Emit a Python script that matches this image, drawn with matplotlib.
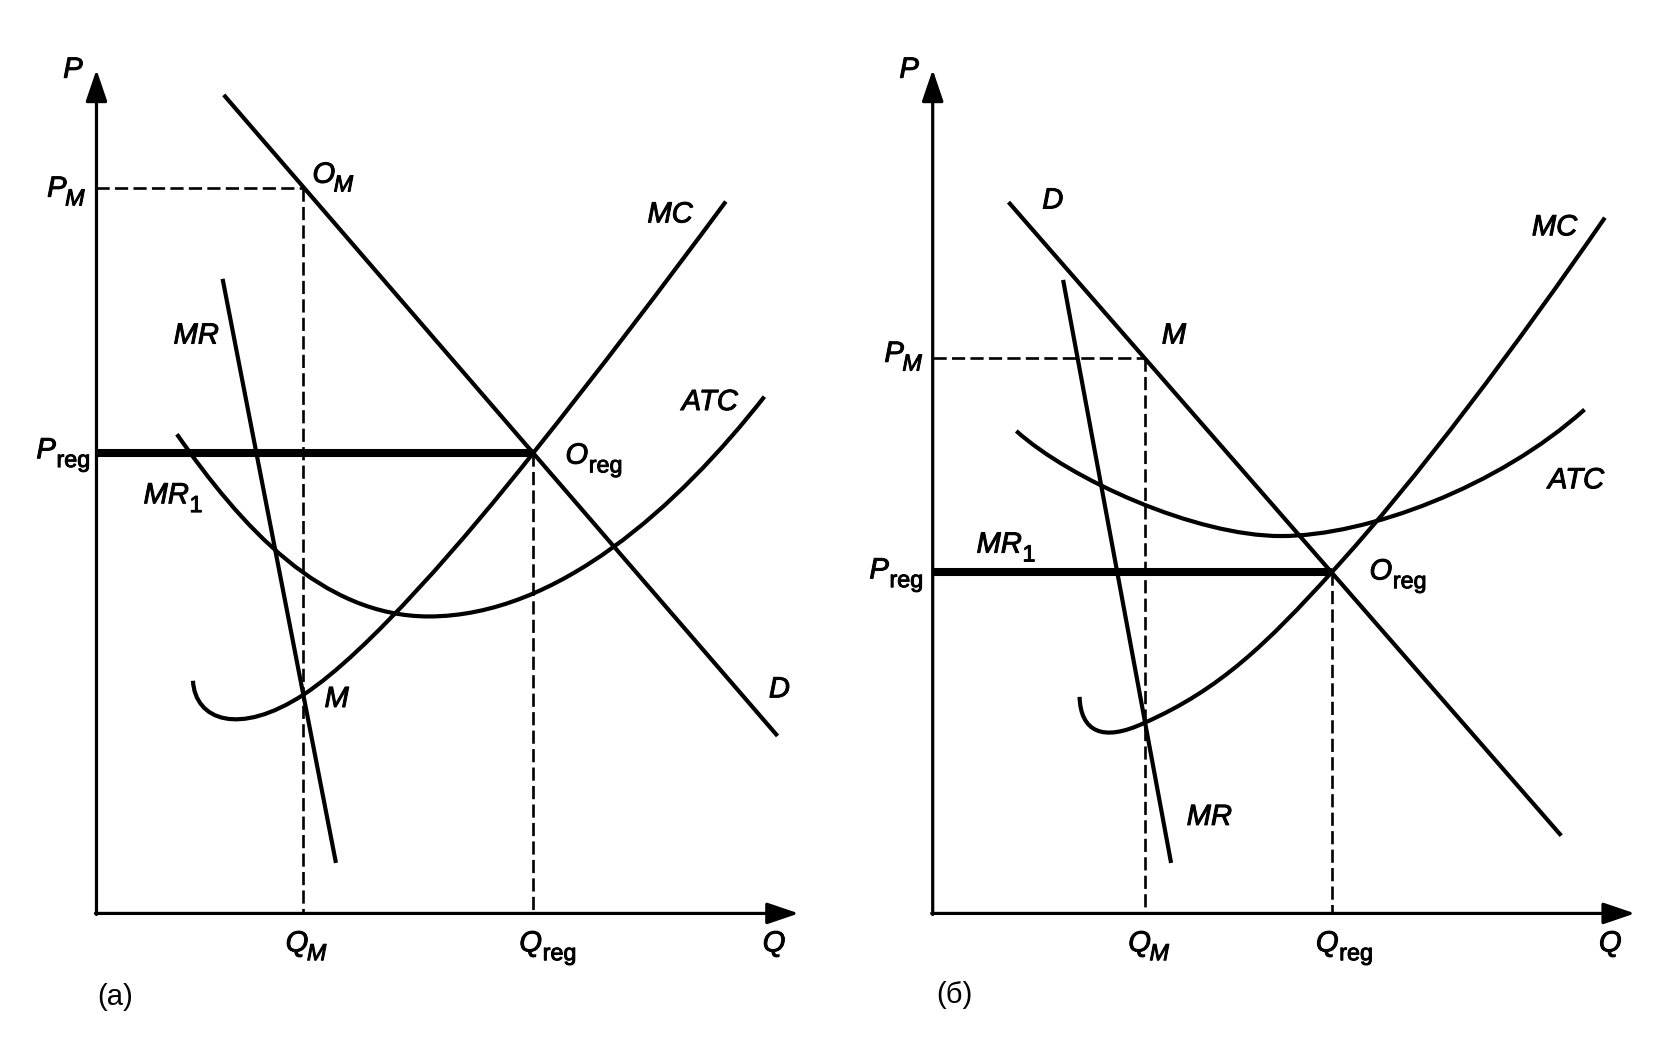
import matplotlib
matplotlib.use('Agg')
import matplotlib.pyplot as plt
import matplotlib.patheffects as pe
from matplotlib.path import Path
from matplotlib.patches import PathPatch

plt.rcParams['font.family'] = ['Liberation Sans', 'DejaVu Sans']

## Chart values (Q to the right, P upwards, same units on both panels)

q_max = 655
p_max = 787

# panel (a)
d_a_q = [120, 634]
d_a_p = [762, 167]
mr_a_q = [118, 223]
mr_a_p = [590, 49]
# MC / ATC given as cubic bezier points: start, ctrl, ctrl, end, ctrl, ctrl, end ...
mc_a_q = [90, 92, 133, 193, 253, 347, 407, 467, 527, 587]
mc_a_p = [217, 180, 165, 204, 243, 353, 429, 504, 583, 664]
atc_a_q = [75, 135, 210, 310, 430, 543, 623]
atc_a_p = [447, 361, 277, 277, 277, 380, 482]
qm_a, pm_a = 193, 677
qreg_a, preg_a = 407, 429

# panel (б)
d_b_q = [72, 585]
d_b_p = [662, 74]
mr_b_q = [122, 222]
mr_b_p = [589, 49]
mc_b_q = [137, 138, 158, 198, 268, 312, 372, 452, 547, 627]
mc_b_p = [202, 170, 159, 178, 209, 252, 318, 405, 533, 649]
atc_b_q = [78, 128, 245, 325, 405, 528, 608]
atc_b_p = [450, 405, 352, 352, 352, 398, 470]
qm_b, pm_b = 198, 518
qreg_b, preg_b = 372, 318

##

FS = 21
LW = 3.0
fx = [pe.withStroke(linewidth=0.7, foreground='k')]


def bezier(ax, qs, ps):
    verts = list(zip(qs, ps))
    codes = [Path.MOVETO] + [Path.CURVE4] * (len(verts) - 1)
    ax.add_patch(PathPatch(Path(verts, codes), fill=False, lw=LW, color='k',
                           capstyle='butt'))


def lab(ax, q, p, s, sub=None, sub_it=False, ha='center', it=True):
    t = ax.text(q, p, s, fontsize=FS, ha=ha, va='center', color='k',
                style='italic' if it else 'normal',
                path_effects=fx if it else None)
    if sub:
        ax.annotate(sub, xy=(1, 0), xycoords=t, xytext=(-1 if sub_it else 0.5, -2),
                    textcoords='offset points', fontsize=FS * 0.8, va='baseline',
                    ha='left', style='italic' if sub_it else 'normal',
                    color='k', path_effects=fx)
    return t


def axes_frame(ax):
    kw = dict(arrowstyle='-|>,head_length=0.97,head_width=0.33', lw=2.3,
              color='k', mutation_scale=20, shrinkA=0, shrinkB=0)
    ax.annotate('', xy=(0, p_max), xytext=(0, -1), arrowprops=kw)
    ax.annotate('', xy=(q_max, 0), xytext=(-1, 0), arrowprops=kw)
    lab(ax, -22, p_max, 'P')
    lab(ax, 632, -28, 'Q')


def dashed(ax, q, p):
    ls = (0, (5.0, 2.0))
    ax.plot([0, q], [p, p], color='k', lw=1.9, ls=ls)
    ax.plot([q, q], [p, 0], color='k', lw=1.9, ls=ls)


fig = plt.figure(figsize=(16.81, 10.41), dpi=100)
ax1 = fig.add_axes([0, 0, 0.5, 1])
ax2 = fig.add_axes([0.5, 0, 0.5, 1])
ax1.set_xlim(-90, 694)
ax2.set_xlim(-86, 698)
for ax in (ax1, ax2):
    ax.set_ylim(-119, 852)
    ax.axis('off')

## (a)
axes_frame(ax1)
dashed(ax1, qm_a, pm_a)
dashed(ax1, qreg_a, preg_a)
ax1.plot([0, qreg_a], [preg_a, preg_a], color='k', lw=5.8, solid_capstyle='butt')
ax1.plot(d_a_q, d_a_p, color='k', lw=LW)
ax1.plot(mr_a_q, mr_a_p, color='k', lw=LW)
bezier(ax1, mc_a_q, mc_a_p)
bezier(ax1, atc_a_q, atc_a_p)

lab(ax1, -37, 676, 'P', 'M', sub_it=True)
lab(ax1, -47, 432, 'P', 'reg')
lab(ax1, 212, 689, 'O', 'M', sub_it=True)
lab(ax1, 448, 427, 'O', 'reg')
lab(ax1, 535, 652, 'MC')
lab(ax1, 572, 477, 'ATC')
lab(ax1, 93, 539, 'MR')
lab(ax1, 65, 390, 'MR', '1')
lab(ax1, 224, 200, 'M')
lab(ax1, 637, 209, 'D')
lab(ax1, 187, -28, 'Q', 'M', sub_it=True)
lab(ax1, 405, -28, 'Q', 'reg')
lab(ax1, 17, -78, '(a)', it=False)

## (б)
axes_frame(ax2)
dashed(ax2, qm_b, pm_b)
dashed(ax2, qreg_b, preg_b)
ax2.plot([0, qreg_b], [preg_b, preg_b], color='k', lw=5.8, solid_capstyle='butt')
ax2.plot(d_b_q, d_b_p, color='k', lw=LW)
ax2.plot(mr_b_q, mr_b_p, color='k', lw=LW)
bezier(ax2, mc_b_q, mc_b_p)
bezier(ax2, atc_b_q, atc_b_p)

lab(ax2, -36, 522, 'P', 'M', sub_it=True)
lab(ax2, -50, 320, 'P', 'reg')
lab(ax2, 225, 539, 'M')
lab(ax2, 418, 319, 'O', 'reg')
lab(ax2, 112, 665, 'D')
lab(ax2, 580, 640, 'MC')
lab(ax2, 600, 404, 'ATC')
lab(ax2, 62, 344, 'MR', '1')
lab(ax2, 258, 90, 'MR')
lab(ax2, 193, -28, 'Q', 'M', sub_it=True)
lab(ax2, 368, -28, 'Q', 'reg')
lab(ax2, 20, -76, '(б)', it=False)

fig.savefig('out.png', dpi=100, facecolor='white')
